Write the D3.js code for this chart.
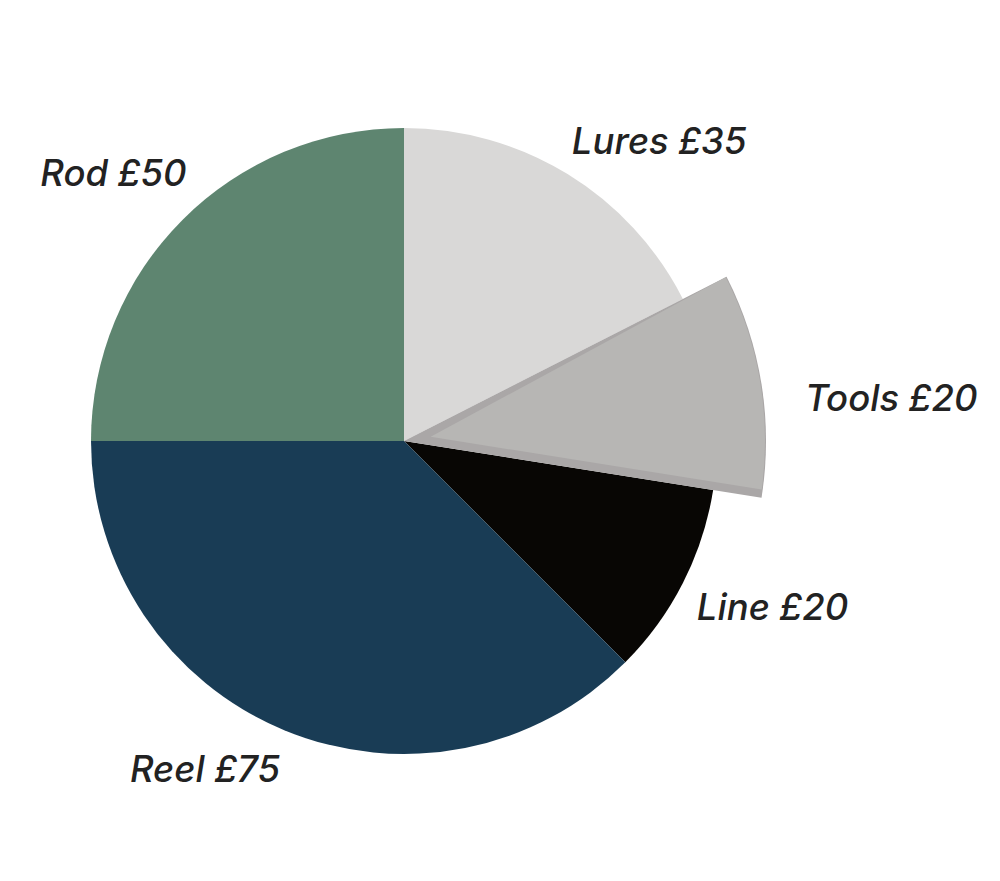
<!DOCTYPE html>
<html>
<head>
<meta charset="utf-8">
<script src="https://cdn.jsdelivr.net/npm/d3@7"></script>
<style>
  body { margin: 0; background: #fff; }
  text { font-family: "Inter", "Liberation Sans", sans-serif; font-style: italic; font-weight: 500; }
</style>
</head>
<body>
<svg id="chart"></svg>
<script>
// slice order clockwise from 12 o'clock
var categories = ['Lures', 'Tools', 'Line', 'Reel', 'Rod'];
var values = [35, 20, 20, 75, 50];
var colors = ['#d9d8d7', '#b7b6b4', '#080604', '#193c55', '#5e8570'];
var pulled = ['Tools'];

var w = 1000, h = 881;
var cx = 404, cy = 441;
var radius = 313;
var pulledRadius = 362;
var bevel = 27;
var labelGap = 37;

// small hand nudges so the labels sit where the original put them
var labelNudge = {
    Lures: [-15, -1],
    Tools: [7, 20],
    Line: [-19, 7],
    Reel: [10, 5],
    Rod: [30, -20]
};

var svg = d3.select('#chart')
    .attr('width', w)
    .attr('height', h);

var g = svg.append('g')
    .attr('transform', 'translate(' + cx + ',' + cy + ')');

var pie = d3.pie().sort(null).value(function (d) { return d.value; });

var data = categories.map(function (c, i) {
    return { name: c, value: values[i], color: colors[i] };
});

var arcs = pie(data);

var arc = d3.arc().innerRadius(0).outerRadius(radius);
var arcOut = d3.arc().innerRadius(0).outerRadius(pulledRadius);

function isPulled(d) { return pulled.indexOf(d.data.name) > -1; }

function mid(d) { return (d.startAngle + d.endAngle) / 2; }

// face of the pulled slice: apex pushed out, top corner shared with the base,
// bottom corner pulled in a little so the darker base shows as a bevel
function facePath(d) {
    var a = mid(d);
    var p = d3.path();
    var ax = Math.sin(a) * bevel, ay = -Math.cos(a) * bevel;
    p.moveTo(ax, ay);
    p.lineTo(Math.sin(d.startAngle) * pulledRadius, -Math.cos(d.startAngle) * pulledRadius);
    p.arc(0, 0, pulledRadius - 1, d.startAngle - Math.PI / 2, d.endAngle - 0.022 - Math.PI / 2);
    p.closePath();
    return p.toString();
}

// normal slices
g.selectAll('path.slice')
    .data(arcs.filter(function (d) { return !isPulled(d); }))
    .enter().append('path')
    .attr('class', 'slice')
    .attr('d', arc)
    .attr('fill', function (d) { return d.data.color; });

// pulled slice: darker base with a lighter face on top
var pulledArcs = arcs.filter(isPulled);

g.selectAll('path.pulled-base')
    .data(pulledArcs)
    .enter().append('path')
    .attr('class', 'pulled-base')
    .attr('d', arcOut)
    .attr('fill', '#aaa7a7');

g.selectAll('path.pulled-face')
    .data(pulledArcs)
    .enter().append('path')
    .attr('class', 'pulled-face')
    .attr('d', facePath)
    .attr('fill', function (d) { return d.data.color; });

// labels
function labelPos(d) {
    var r = (isPulled(d) ? pulledRadius : radius) + labelGap;
    var n = labelNudge[d.data.name] || [0, 0];
    return [Math.sin(mid(d)) * r + n[0], -Math.cos(mid(d)) * r + n[1]];
}

g.selectAll('text.label')
    .data(arcs)
    .enter().append('text')
    .attr('class', 'label')
    .attr('x', function (d) { return labelPos(d)[0]; })
    .attr('y', function (d) { return labelPos(d)[1]; })
    .attr('dy', '0.35em')
    .attr('text-anchor', function (d) { return mid(d) < Math.PI ? 'start' : 'end'; })
    .attr('font-size', 36.5)
    .attr('fill', '#222')
    .text(function (d) { return d.data.name + ' £' + d.data.value; });
</script>
</body>
</html>
